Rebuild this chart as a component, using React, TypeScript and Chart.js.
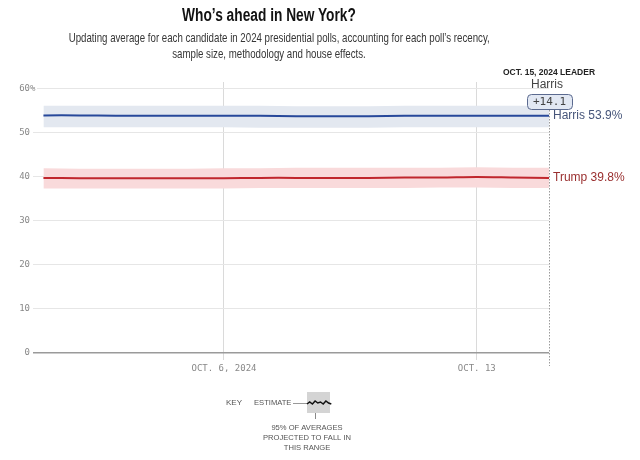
import React, { useEffect, useRef } from "react";
import { Chart, registerables } from "chart.js";

Chart.register(...registerables);

// Days since Oct. 1, 2024 (0 = Oct 1, 14 = Oct 15)
const days = [0, 1, 2, 3, 4, 5, 6, 7, 8, 9, 10, 11, 12, 13, 14];
const harris = [54.0, 54.0, 53.9, 53.9, 53.9, 53.9, 53.9, 53.8, 53.8, 53.8, 53.9, 53.9, 53.9, 53.9, 53.9];
const harrisHi = [56.2, 56.2, 56.2, 56.2, 56.2, 56.2, 56.2, 56.1, 56.1, 56.1, 56.2, 56.2, 56.2, 56.2, 56.2];
const harrisLo = [51.3, 51.3, 51.3, 51.3, 51.3, 51.3, 51.2, 51.2, 51.2, 51.2, 51.3, 51.3, 51.3, 51.3, 51.3];
const trump = [39.8, 39.7, 39.7, 39.7, 39.7, 39.7, 39.8, 39.8, 39.8, 39.8, 39.9, 39.9, 40.0, 39.9, 39.8];
const trumpHi = [42.0, 41.9, 41.9, 41.9, 41.9, 42.0, 42.0, 42.1, 42.1, 42.1, 42.1, 42.1, 42.2, 42.1, 42.1];
const trumpLo = [37.4, 37.4, 37.4, 37.4, 37.4, 37.4, 37.5, 37.5, 37.5, 37.5, 37.5, 37.6, 37.6, 37.5, 37.5];

const xTickDays = [5, 12];
const xTickLabels = ["OCT. 6, 2024", "OCT. 13"];
const yTicks = [0, 10, 20, 30, 40, 50, 60];

const titleText = "Who’s ahead in New York?";
const subtitle1 = "Updating average for each candidate in 2024 presidential polls, accounting for each poll’s recency,";
const subtitle2 = "sample size, methodology and house effects.";
const leaderDate = "OCT. 15, 2024 LEADER";
const leaderName = "Harris";
const leaderMargin = "+14.1";
const harrisLabel = "Harris 53.9%";
const trumpLabel = "Trump 39.8%";

const MONO = '"DejaVu Sans Mono", "Liberation Mono", monospace';
const SANS = '"Liberation Sans", Arial, sans-serif';

const pts = (vals: number[]) => vals.map((v, i) => ({ x: days[i], y: v }));

function textWidth(font: string, text: string): number {
  const c = document.createElement("canvas").getContext("2d");
  if (!c) return 1;
  c.font = font;
  return c.measureText(text).width || 1;
}

export default function App() {
  const ref = useRef<HTMLCanvasElement | null>(null);

  const titleScale = Math.min(1, 174 / textWidth(`bold 18px ${SANS}`, titleText));
  const subScale = Math.min(1, 421 / textWidth(`13px ${SANS}`, subtitle1));

  useEffect(() => {
    if (!ref.current) return;
    const drawCondensed = (ctx: CanvasRenderingContext2D, text: string, x: number, y: number, sx: number) => {
      ctx.save();
      ctx.translate(x, y);
      ctx.scale(sx, 1);
      ctx.fillText(text, 0, 0);
      ctx.restore();
    };
    const extras = {
      id: "extras",
      afterDraw(chart: any) {
        const ctx = chart.ctx as CanvasRenderingContext2D;
        const xs = chart.scales.x;
        const ys = chart.scales.y;
        const xEnd = xs.getPixelForValue(days[days.length - 1]);
        ctx.save();
        // % sign after 60
        const y60 = ys.getPixelForValue(60);
        ctx.fillStyle = "#ffffff";
        ctx.fillRect(31, y60 - 2, 6, 4);
        ctx.fillStyle = "#888888";
        ctx.font = `9px ${MONO}`;
        ctx.textAlign = "left";
        ctx.textBaseline = "middle";
        ctx.fillText("%", 30, y60);

        // dotted end line
        ctx.strokeStyle = "#9a9a9a";
        ctx.lineWidth = 1;
        ctx.setLineDash([1.5, 1.5]);
        ctx.beginPath();
        ctx.moveTo(Math.round(xEnd) + 0.5, 110);
        ctx.lineTo(Math.round(xEnd) + 0.5, 366);
        ctx.stroke();
        ctx.setLineDash([]);

        // end labels
        ctx.font = `12px ${SANS}`;
        ctx.textAlign = "left";
        ctx.fillStyle = "#46557a";
        ctx.fillText(harrisLabel, xEnd + 4, ys.getPixelForValue(harris[harris.length - 1]));
        ctx.fillStyle = "#9a2f2f";
        ctx.fillText(trumpLabel, xEnd + 4, ys.getPixelForValue(trump[trump.length - 1]));

        // leader header
        ctx.textAlign = "center";
        ctx.fillStyle = "#222222";
        ctx.font = `bold 8.5px ${SANS}`;
        ctx.fillText(leaderDate, xEnd, 73);
        ctx.font = `12px ${SANS}`;
        ctx.fillStyle = "#444444";
        ctx.fillText(leaderName, xEnd - 2, 85);
        // badge
        const bx = xEnd - 22, by = 94, bw = 45, bh = 15;
        ctx.beginPath();
        ctx.roundRect(bx + 0.5, by + 0.5, bw, bh, 4);
        ctx.fillStyle = "#e2e8f3";
        ctx.fill();
        ctx.strokeStyle = "#5b6a8f";
        ctx.lineWidth = 1;
        ctx.stroke();
        ctx.fillStyle = "#444444";
        ctx.font = `11px ${MONO}`;
        ctx.fillText(leaderMargin, bx + bw / 2, by + bh / 2 + 1);

        // key
        ctx.font = `8px ${SANS}`;
        ctx.fillStyle = "#555555";
        ctx.textAlign = "left";
        ctx.fillText("KEY", 226, 403);
        drawCondensed(ctx, "ESTIMATE", 254, 403, 0.95);
        ctx.strokeStyle = "#999999";
        ctx.beginPath();
        ctx.moveTo(293, 403.5);
        ctx.lineTo(307, 403.5);
        ctx.stroke();
        ctx.fillStyle = "#d4d4d4";
        ctx.fillRect(307, 392, 23, 21);
        ctx.strokeStyle = "#111111";
        ctx.lineWidth = 1.5;
        ctx.beginPath();
        const sq = [404, 402, 404, 401, 403, 402, 404, 401, 403, 404];
        sq.forEach((yy, i) => {
          const xx = 307 + i * 2.7;
          if (i === 0) ctx.moveTo(xx, yy);
          else ctx.lineTo(xx, yy);
        });
        ctx.stroke();
        ctx.strokeStyle = "#888888";
        ctx.lineWidth = 1;
        ctx.beginPath();
        ctx.moveTo(315.5, 413);
        ctx.lineTo(315.5, 419);
        ctx.stroke();
        ctx.fillStyle = "#555555";
        ctx.textAlign = "center";
        ctx.font = `8px ${SANS}`;
        drawCondensed(ctx, "95% OF AVERAGES", 307, 428, 0.95);
        drawCondensed(ctx, "PROJECTED TO FALL IN", 307, 438, 0.95);
        drawCondensed(ctx, "THIS RANGE", 307, 448, 0.95);
        ctx.restore();
      },
    };

    const chart = new Chart(ref.current, {
      type: "line",
      data: {
        datasets: [
          { label: "Harris", data: pts(harris), borderColor: "#27489a", borderWidth: 2, pointRadius: 0, fill: false, tension: 0.3 },
          { label: "Trump", data: pts(trump), borderColor: "#c0272d", borderWidth: 2, pointRadius: 0, fill: false, tension: 0.3 },
          { label: "Harris high", data: pts(harrisHi), fill: 3, backgroundColor: "#e3e8f0", borderWidth: 0, pointRadius: 0 },
          { label: "Harris low", data: pts(harrisLo), fill: false, borderWidth: 0, pointRadius: 0 },
          { label: "Trump high", data: pts(trumpHi), fill: 5, backgroundColor: "#f9dadb", borderWidth: 0, pointRadius: 0 },
          { label: "Trump low", data: pts(trumpLo), fill: false, borderWidth: 0, pointRadius: 0 },
        ],
      } as any,
      options: {
        animation: false,
        responsive: false,
        maintainAspectRatio: false,
        layout: { padding: { top: 82, right: 91, bottom: 77, left: 0 } },
        plugins: { legend: { display: false }, tooltip: { enabled: false }, title: { display: false } },
        scales: {
          x: {
            type: "linear",
            min: -0.289,
            max: 14,
            afterBuildTicks: (s: any) => {
              s.ticks = xTickDays.map((v) => ({ value: v }));
            },
            afterFit: (s: any) => {
              s.height = 30;
            },
            ticks: {
              autoSkip: false,
              maxRotation: 0,
              padding: 3,
              color: "#888888",
              font: { family: MONO, size: 9 },
              callback: (v: any) => xTickLabels[xTickDays.indexOf(Number(v))] ?? "",
            },
            grid: { color: "#dadada", tickColor: "#dadada", tickLength: 7, drawTicks: true },
            border: { display: false },
          },
          y: {
            min: 0,
            max: 61.59,
            afterBuildTicks: (s: any) => {
              s.ticks = yTicks.map((v) => ({ value: v }));
            },
            afterFit: (s: any) => {
              s.width = 33;
            },
            ticks: {
              padding: 3,
              color: "#888888",
              font: { family: MONO, size: 9 },
              callback: (v: any) => String(v),
            },
            grid: {
              drawTicks: false,
              color: (c: any) => (c.tick && c.tick.value === 0 ? "#9a9a9a" : "#e6e6e6"),
              lineWidth: (c: any) => (c.tick && c.tick.value === 0 ? 1.5 : 1),
            },
            border: { display: false },
          },
        },
      } as any,
      plugins: [extras],
    });
    return () => chart.destroy();
  }, []);

  const lineStyle: React.CSSProperties = {
    display: "block",
    whiteSpace: "nowrap",
    textAlign: "center",
  };

  return (
    <div style={{ position: "absolute", left: 0, top: 0, width: 640, height: 460, background: "#fff", overflow: "hidden" }}>
      <canvas ref={ref} width={640} height={460} style={{ position: "absolute", left: 0, top: 0, width: 640, height: 460 }} />
      <div
        style={{
          position: "absolute",
          left: 0,
          top: 4,
          width: 538,
          fontFamily: SANS,
          fontWeight: "bold",
          fontSize: 18,
          lineHeight: "22px",
          color: "#121212",
          transform: `scaleX(${titleScale})`,
          transformOrigin: "269px 0",
          ...lineStyle,
        }}
      >
        {titleText}
      </div>
      <div
        style={{
          position: "absolute",
          left: 0,
          top: 30,
          width: 538,
          fontFamily: SANS,
          fontSize: 13,
          lineHeight: "15.5px",
          color: "#363636",
          transform: `scaleX(${subScale})`,
          transformOrigin: "269px 0",
        }}
      >
        <span style={lineStyle}>{subtitle1}</span>
        <span style={lineStyle}>{subtitle2}</span>
      </div>
    </div>
  );
}
